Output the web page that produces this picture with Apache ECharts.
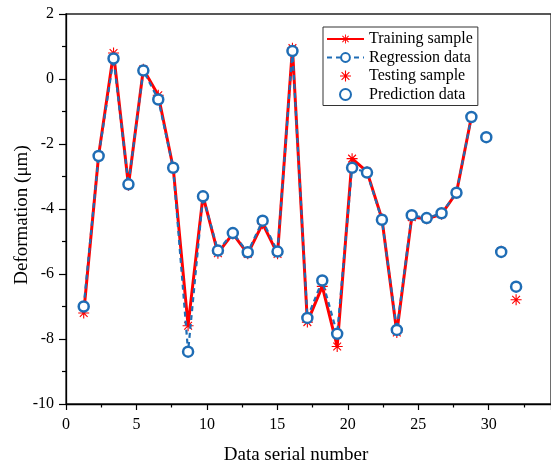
<!DOCTYPE html>
<html>
<head>
<meta charset="utf-8">
<script src="https://cdn.jsdelivr.net/npm/echarts@6/dist/echarts.min.js"></script>
<style>
html,body{margin:0;padding:0;background:#fff;}
#chart{width:551px;height:467px;}
</style>
</head>
<body>
<div id="chart"></div>
<script>
// ---- data ----
const trainSerial = [1,2,3,4,5,6,7,8,9,10,11,12,13,14,15,16,17,18,19,20,21,22,23,24,25,26,27];
const trainingSample = [-7.2,-2.35,0.8,-3.27,0.3,-0.5,-2.73,-7.59,-3.6,-5.36,-4.76,-5.38,-4.45,-5.38,0.95,-7.48,-6.38,-8.23,-2.45,-2.85,-4.3,-7.8,-4.25,-4.3,-4.16,-3.5,-1.17];
const regressionData = [-7.0,-2.37,0.63,-3.24,0.26,-0.63,-2.73,-8.39,-3.61,-5.28,-4.74,-5.33,-4.36,-5.31,0.86,-7.35,-6.2,-7.84,-2.73,-2.88,-4.33,-7.72,-4.19,-4.28,-4.13,-3.5,-1.17];
const testSerial = [28,29,30];
const testingSample = [-1.8,-5.3,-6.79];
const predictionData = [-1.79,-5.32,-6.39];
const xTicks = [0,5,10,15,20,25,30];
const yTicks = [-10,-8,-6,-4,-2,0,2];

const RED = '#ff0000';
const BLUE = '#1f6db5';
const FONT = '"Liberation Serif","Times New Roman",serif';
const ASTERISK = 'path://M9,0L11,0L11,20L9,20Z M0,9L20,9L20,11L0,11Z M3.64,2.22L17.78,16.36L16.36,17.78L2.22,3.64Z M16.36,2.22L17.78,3.64L3.64,17.78L2.22,16.36Z';

const pairs = (xs, ys) => xs.map((x, i) => [x, ys[i]]);

const chart = echarts.init(document.getElementById('chart'), null, {renderer: 'canvas'});
chart.setOption({
  animation: false,
  backgroundColor: '#fff',
  grid: {left: 66, top: 14, right: 0, bottom: 63, show: true, borderColor: '#222', borderWidth: 1.3, backgroundColor: 'transparent'},
  xAxis: [
    {
      type: 'value', min: xTicks[0], max: 34.42, interval: 5, position: 'bottom',
      axisLine: {show: true, onZero: false, lineStyle: {color: '#000', width: 1.3}},
      axisTick: {show: true, inside: false, length: 6, lineStyle: {color: '#000', width: 1.2}},
      minorTick: {show: true, splitNumber: 2, length: 3.5, lineStyle: {color: '#000', width: 1.2}},
      axisLabel: {color: '#000', fontFamily: FONT, fontSize: 16, margin: 13, showMaxLabel: false},
      splitLine: {show: false}
    },
    {
      type: 'value', min: -0.188, max: 32.34, show: false, position: 'bottom',
      splitLine: {show: false}
    }
  ],
  yAxis: {
    type: 'value', min: yTicks[0], max: yTicks[yTicks.length - 1], interval: 2,
    axisLine: {show: true, onZero: false, lineStyle: {color: '#000', width: 1.3}},
    axisTick: {show: true, inside: false, length: 7, lineStyle: {color: '#000', width: 1.2}},
    minorTick: {show: true, splitNumber: 2, length: 4, lineStyle: {color: '#000', width: 1.2}},
    axisLabel: {color: '#000', fontFamily: FONT, fontSize: 16, margin: 12},
    splitLine: {show: false}
  },
  legend: {
    orient: 'vertical', left: 323, top: 27,
    padding: [4, 5, 3, 3], itemGap: 2.5, itemWidth: 37, itemHeight: 11,
    borderColor: '#333', borderWidth: 1, backgroundColor: '#fff',
    textStyle: {color: '#000', fontFamily: FONT, fontSize: 16},
    data: ['Training sample', 'Regression data', 'Testing sample', 'Prediction data']
  },
  graphic: [
    {type: 'text', x: 22, y: 215, rotation: Math.PI / 2,
     style: {text: 'Deformation (μm)', align: 'center', verticalAlign: 'middle', font: '19px ' + FONT, fill: '#000'}},
    {type: 'text', x: 296, y: 455,
     style: {text: 'Data serial number', align: 'center', verticalAlign: 'middle', font: '19px ' + FONT, fill: '#000'}}
  ],
  series: [
    {
      name: 'Training sample', type: 'line', xAxisIndex: 1, z: 2,
      data: pairs(trainSerial, trainingSample),
      symbol: ASTERISK, symbolSize: 11,
      itemStyle: {color: RED, opacity: 1},
      lineStyle: {color: RED, width: 3}
    },
    {
      name: 'Testing sample', type: 'scatter', xAxisIndex: 1, z: 2,
      data: pairs(testSerial, testingSample),
      symbol: ASTERISK, symbolSize: 11,
      itemStyle: {color: RED, opacity: 1}
    },
    {
      name: 'Regression data', type: 'line', xAxisIndex: 1, z: 3,
      data: pairs(trainSerial, regressionData),
      symbol: 'circle', symbolSize: 10,
      itemStyle: {color: '#fff', borderColor: BLUE, borderWidth: 2.5, opacity: 1},
      lineStyle: {color: BLUE, width: 2.2, type: [5, 4]}
    },
    {
      name: 'Prediction data', type: 'scatter', xAxisIndex: 1, z: 4,
      data: pairs(testSerial, predictionData),
      symbol: 'circle', symbolSize: 10,
      itemStyle: {color: '#fff', borderColor: BLUE, borderWidth: 2.5, opacity: 1}
    }
  ]
});
</script>
</body>
</html>
